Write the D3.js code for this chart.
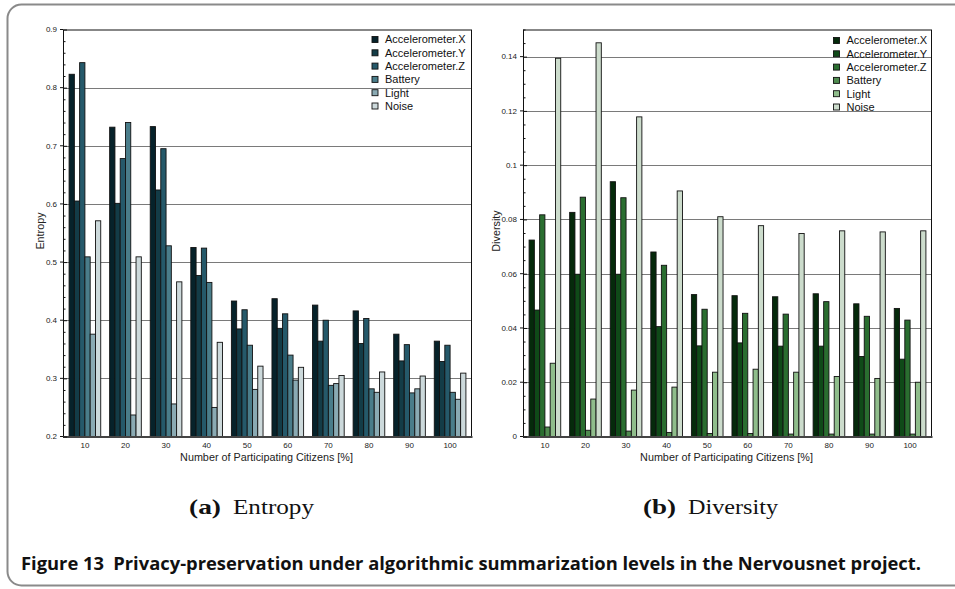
<!DOCTYPE html>
<html>
<head>
<meta charset="utf-8">
<script src="https://cdn.jsdelivr.net/npm/d3@7"></script>
<style>
  html, body { margin: 0; padding: 0; background: #fff; }
  svg { display: block; }
</style>
</head>
<body>
<svg id="fig" width="955" height="589"></svg>
<script>
// Participation levels on the x axis
const categories = ["10", "20", "30", "40", "50", "60", "70", "80", "90", "100"];
const seriesNames = ["Accelerometer.X", "Accelerometer.Y", "Accelerometer.Z", "Battery", "Light", "Noise"];

// Entropy per sensor
const entropyAccX    = [0.823, 0.732, 0.733, 0.525, 0.433, 0.437, 0.426, 0.416, 0.376, 0.364];
const entropyAccY    = [0.605, 0.601, 0.624, 0.477, 0.385, 0.386, 0.364, 0.360, 0.330, 0.329];
const entropyAccZ    = [0.843, 0.678, 0.695, 0.524, 0.418, 0.411, 0.400, 0.403, 0.358, 0.357];
const entropyBattery = [0.509, 0.740, 0.528, 0.465, 0.357, 0.340, 0.288, 0.282, 0.275, 0.276];
const entropyLight   = [0.376, 0.237, 0.256, 0.250, 0.281, 0.297, 0.291, 0.276, 0.282, 0.264];
const entropyNoise   = [0.571, 0.509, 0.466, 0.362, 0.321, 0.319, 0.305, 0.311, 0.304, 0.309];

// Diversity per sensor
const diversityAccX    = [0.0724, 0.0826, 0.0939, 0.0680, 0.0523, 0.0519, 0.0515, 0.0526, 0.0489, 0.0472];
const diversityAccY    = [0.0466, 0.0598, 0.0598, 0.0405, 0.0334, 0.0345, 0.0333, 0.0333, 0.0295, 0.0285];
const diversityAccZ    = [0.0817, 0.0882, 0.0880, 0.0631, 0.0469, 0.0454, 0.0451, 0.0497, 0.0443, 0.0429];
const diversityBattery = [0.0035, 0.0023, 0.0020, 0.0015, 0.0011, 0.0011, 0.0009, 0.0009, 0.0009, 0.0009];
const diversityLight   = [0.0270, 0.0138, 0.0171, 0.0182, 0.0237, 0.0248, 0.0237, 0.0221, 0.0214, 0.0200];
const diversityNoise   = [0.1394, 0.1451, 0.1178, 0.0905, 0.0810, 0.0777, 0.0748, 0.0758, 0.0754, 0.0758];

// Tick labels
const entropyTicks = [0.2, 0.3, 0.4, 0.5, 0.6, 0.7, 0.8, 0.9];
const diversityTicks = [0, 0.02, 0.04, 0.06, 0.08, 0.1, 0.12, 0.14];

const entropyColors   = ["#06222a", "#133c47", "#25596a", "#4a7d8a", "#8aaab3", "#ccd9db"];
const diversityColors = ["#052a0b", "#0f4a18", "#2a6e30", "#4f8b4f", "#8fbd8b", "#ccdccc"];

const svg = d3.select("#fig");

// Outer figure frame
svg.append("rect")
  .attr("x", 7.5).attr("y", 4.5)
  .attr("width", 990).attr("height", 581)
  .attr("rx", 14).attr("ry", 14)
  .attr("fill", "none").attr("stroke", "#8a8a8a").attr("stroke-width", 2);

function drawPanel(opts) {
  const { left, right, top, bottom, domain, ticks, minorStep, fmt, values, colors, yTitle, yTitleX } = opts;
  const g = svg.append("g");

  const y = d3.scaleLinear().domain(domain).range([bottom, top]);
  const x0 = d3.scaleBand().domain(categories).range([left, right])
    .paddingInner(0.22).paddingOuter(0.15);
  const x1 = d3.scaleBand().domain(seriesNames).range([0, x0.bandwidth()]);

  // horizontal grid lines at major ticks
  g.append("g").selectAll("line")
    .data(ticks.filter(t => t > domain[0] && t < domain[1]))
    .join("line")
    .attr("x1", left).attr("x2", right)
    .attr("y1", d => Math.round(y(d)) + 0.5).attr("y2", d => Math.round(y(d)) + 0.5)
    .attr("stroke", "#7a7a7a").attr("stroke-width", 1);

  // bars
  const rows = categories.map((c, i) => ({ c, vals: seriesNames.map((s, k) => ({ s, k, v: values[k][i] })) }));
  g.append("g").selectAll("g")
    .data(rows).join("g")
    .attr("transform", d => `translate(${x0(d.c)},0)`)
    .selectAll("rect")
    .data(d => d.vals).join("rect")
    .attr("x", d => x1(d.s))
    .attr("y", d => y(d.v))
    .attr("width", x1.bandwidth())
    .attr("height", d => bottom - y(d.v))
    .attr("fill", d => colors[d.k])
    .attr("stroke", "#111").attr("stroke-width", 0.9);

  // plot frame
  g.append("rect")
    .attr("x", left + 0.5).attr("y", top + 0.5)
    .attr("width", right - left - 1).attr("height", bottom - top)
    .attr("fill", "none").attr("stroke", "#111").attr("stroke-width", 1);
  g.append("line")
    .attr("x1", left).attr("x2", right + 0.5)
    .attr("y1", bottom + 0.5).attr("y2", bottom + 0.5)
    .attr("stroke", "#444").attr("stroke-width", 2);

  // y axis with inward ticks
  const yAxis = d3.axisRight(y).tickValues(ticks).tickSize(4).tickFormat("");
  g.append("g").attr("transform", `translate(${left},0)`).call(yAxis)
    .call(a => a.select(".domain").remove())
    .call(a => a.selectAll("line").attr("stroke", "#111"));
  const minor = d3.range(domain[0], domain[1] + 1e-9, minorStep)
    .filter(v => !ticks.some(t => Math.abs(t - v) < 1e-9));
  g.append("g").attr("transform", `translate(${left},0)`)
    .call(d3.axisRight(y).tickValues(minor).tickSize(2.5).tickFormat(""))
    .call(a => a.select(".domain").remove())
    .call(a => a.selectAll("line").attr("stroke", "#111"));
  g.append("g").selectAll("line")
    .data(ticks).join("line")
    .attr("x1", left - 3).attr("x2", left)
    .attr("y1", d => y(d)).attr("y2", d => y(d))
    .attr("stroke", "#111");

  // y tick labels
  g.append("g").selectAll("text")
    .data(ticks).join("text")
    .attr("x", left - 6).attr("y", d => y(d))
    .attr("dy", "0.35em").attr("text-anchor", "end")
    .attr("font-family", "Liberation Sans, Arial, sans-serif")
    .attr("font-size", 8).attr("fill", "#222")
    .text(fmt);

  // x tick labels
  g.append("g").selectAll("text")
    .data(categories).join("text")
    .attr("x", d => x0(d) + x0.bandwidth() / 2)
    .attr("y", bottom + 11.5)
    .attr("text-anchor", "middle")
    .attr("font-family", "Liberation Sans, Arial, sans-serif")
    .attr("font-size", 8).attr("fill", "#222")
    .text(d => d);

  // axis titles
  g.append("text")
    .attr("x", (left + right) / 2 - 1).attr("y", bottom + 24.5)
    .attr("text-anchor", "middle")
    .attr("font-family", "Liberation Sans, Arial, sans-serif")
    .attr("font-size", 10.8).attr("fill", "#222")
    .text("Number of Participating Citizens [%]");
  g.append("text")
    .attr("transform", `translate(${yTitleX},${(top + bottom) / 2 - 2}) rotate(-90)`)
    .attr("text-anchor", "middle")
    .attr("font-family", "Liberation Sans, Arial, sans-serif")
    .attr("font-size", 10.8).attr("fill", "#222")
    .text(yTitle);

  // legend
  const lg = g.append("g").attr("transform", `translate(${opts.legendX},${opts.legendY})`);
  const item = lg.selectAll("g").data(seriesNames).join("g")
    .attr("transform", (d, i) => `translate(0,${i * 13.3})`);
  item.append("rect")
    .attr("x", 0).attr("y", -3).attr("width", 6).attr("height", 6)
    .attr("fill", (d, i) => colors[i]).attr("stroke", "#111").attr("stroke-width", 0.9);
  item.append("text")
    .attr("x", 13).attr("y", 0).attr("dy", "0.36em")
    .attr("font-family", "Liberation Sans, Arial, sans-serif")
    .attr("font-size", 11).attr("fill", "#111")
    .text(d => d);
}

drawPanel({
  left: 63, right: 472, top: 29.5, bottom: 436.5,
  domain: [0.2, 0.9], ticks: entropyTicks, minorStep: 0.02,
  fmt: d => d3.format(".1f")(d),
  values: [entropyAccX, entropyAccY, entropyAccZ, entropyBattery, entropyLight, entropyNoise],
  colors: entropyColors, yTitle: "Entropy", yTitleX: 44,
  legendX: 372, legendY: 39.5
});

drawPanel({
  left: 523, right: 932, top: 29.5, bottom: 436.5,
  domain: [0, 0.15], ticks: diversityTicks, minorStep: 0.005,
  fmt: d => d === 0 ? "0" : String(+d.toFixed(2)),
  values: [diversityAccX, diversityAccY, diversityAccZ, diversityBattery, diversityLight, diversityNoise],
  colors: diversityColors, yTitle: "Diversity", yTitleX: 500,
  legendX: 833.5, legendY: 40.5
});

// sub-captions: bold label followed by the panel name
function subCaption(x, label, labelLen, word, wordX, wordLen) {
  const base = { "font-family": "Liberation Serif, 'DejaVu Serif', serif", "font-size": 21, "fill": "#111" };
  const a = svg.append("text").attr("x", x).attr("y", 514)
    .attr("font-weight", "bold")
    .attr("textLength", labelLen).attr("lengthAdjust", "spacingAndGlyphs")
    .text(label);
  const b = svg.append("text").attr("x", wordX).attr("y", 514)
    .attr("textLength", wordLen).attr("lengthAdjust", "spacingAndGlyphs")
    .text(word);
  for (const [k, v] of Object.entries(base)) { a.attr(k, v); b.attr(k, v); }
}
subCaption(189, "(a)", 32, "Entropy", 233, 81);
subCaption(643, "(b)", 33, "Diversity", 688, 90);

// figure caption
svg.append("text")
  .attr("x", 21).attr("y", 570)
  .attr("font-family", "'Open Sans', 'Liberation Sans', sans-serif")
  .attr("font-weight", "bold").attr("font-size", 17).attr("fill", "#111")
  .attr("textLength", 900).attr("lengthAdjust", "spacingAndGlyphs")
  .text("Figure 13\u2002Privacy-preservation under algorithmic summarization levels in the Nervousnet project.");
</script>
</body>
</html>
